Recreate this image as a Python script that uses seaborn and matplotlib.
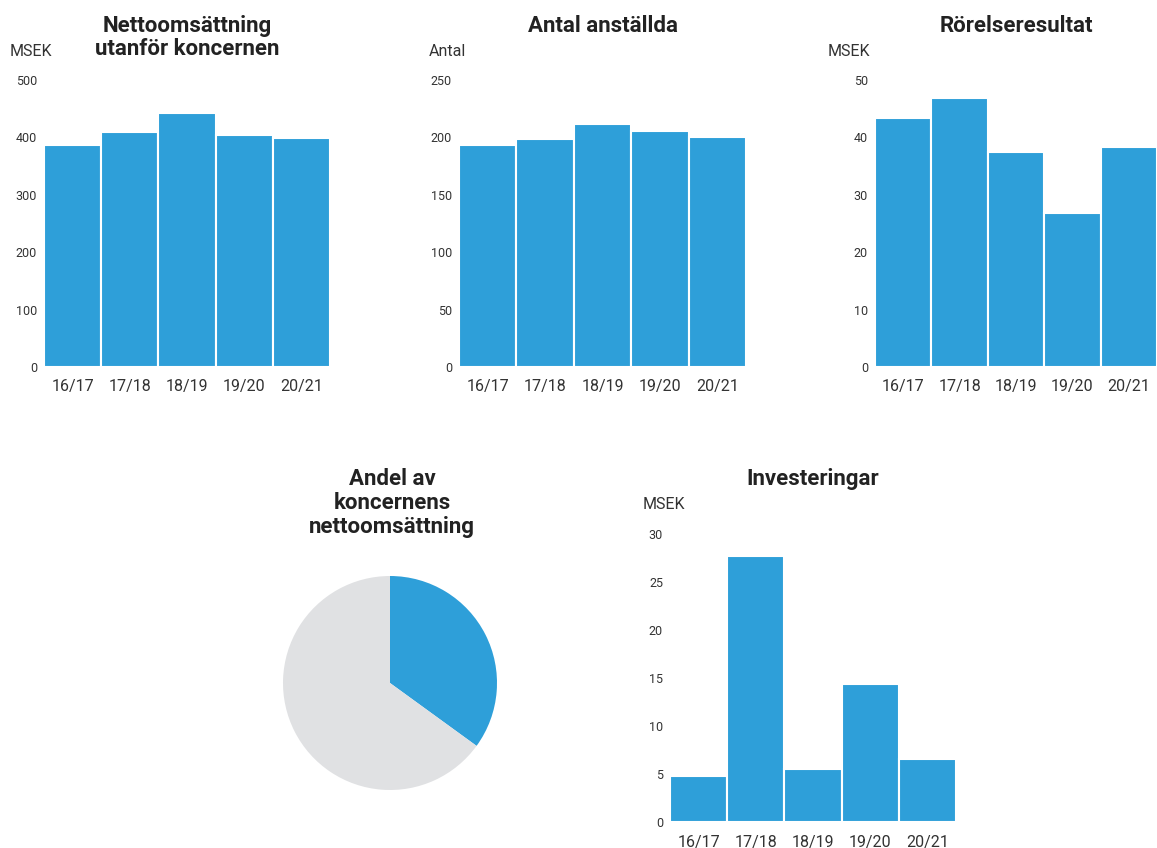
import matplotlib
matplotlib.use("Agg")
import matplotlib.pyplot as plt
import seaborn as sns

# data
years = ["16/17", "17/18", "18/19", "19/20", "20/21"]
nettoomsattning = [387, 409, 442, 404, 399]
anstallda = [193, 199, 212, 206, 200]
rorelseresultat = [43.4, 46.9, 37.5, 26.9, 38.3]
investeringar = [4.8, 27.7, 5.5, 14.4, 6.6]
andel = [35, 65]  # share of group net sales, rest

BLUE = "#2e9fd9"
GREY = "#e0e1e3"
DARK = "#222222"
TEXT = "#333333"

sns.set_style("white")
plt.rcParams["font.family"] = ["Roboto", "DejaVu Sans"]

W, H = 1157, 848
fig = plt.figure(figsize=(W / 100, H / 100), dpi=100)


def px_axes(left, top, right, bottom):
    return fig.add_axes([left / W, 1 - bottom / H, (right - left) / W, (bottom - top) / H])


def bar_panel(box, values, ymax, step, title, unit, unit_x, unit_y, title_y):
    ax = px_axes(*box)
    sns.barplot(x=years, y=values, ax=ax, color=BLUE, saturation=1,
                width=1.0, edgecolor="white", linewidth=1.5)
    ax.set_xlim(-0.5, len(years) - 0.5)
    ax.set_ylim(0, ymax)
    ax.set_yticks(range(0, int(ymax) + 1, step))
    ax.set_xlabel("")
    ax.set_ylabel("")
    sns.despine(ax=ax, left=True, bottom=True)
    ax.tick_params(axis="y", length=0, pad=5, labelsize=9, labelcolor=TEXT)
    ax.tick_params(axis="x", length=0, pad=9, labelsize=11.5, labelcolor=TEXT)
    cx = (box[0] + box[2]) / 2
    fig.text(cx / W, 1 - title_y / H, title, ha="center", va="top",
             fontsize=16, fontweight="bold", color=DARK, linespacing=1.08)
    fig.text(unit_x / W, 1 - unit_y / H, unit, ha="left", va="baseline",
             fontsize=11.5, color=TEXT)
    return ax


bar_panel((44, 80, 330, 367), nettoomsattning, 500, 100,
          "Nettoomsättning\nutanför koncernen", "MSEK", 10, 56, 15)
bar_panel((459, 80, 746, 367), anstallda, 250, 50,
          "Antal anställda", "Antal", 429, 56, 15)
bar_panel((875, 80, 1157, 367), rorelseresultat, 50, 10,
          "Rörelseresultat", "MSEK", 828, 56, 15)
bar_panel((670, 534, 956, 822), investeringar, 30, 5,
          "Investeringar", "MSEK", 643, 509, 468)

# pie
pax = px_axes(283, 576, 497, 790)
pax.pie(andel, colors=[BLUE, GREY], startangle=90, counterclock=False,
        wedgeprops=dict(linewidth=0))
pax.set_xlim(-1, 1)
pax.set_ylim(-1, 1)
pax.set_aspect("equal")
fig.text(392 / W, 1 - 468 / H, "Andel av\nkoncernens\nnettoomsättning",
         ha="center", va="top", fontsize=16, fontweight="bold",
         color=DARK, linespacing=1.13)

fig.savefig("out.png", dpi=100, facecolor="white")
